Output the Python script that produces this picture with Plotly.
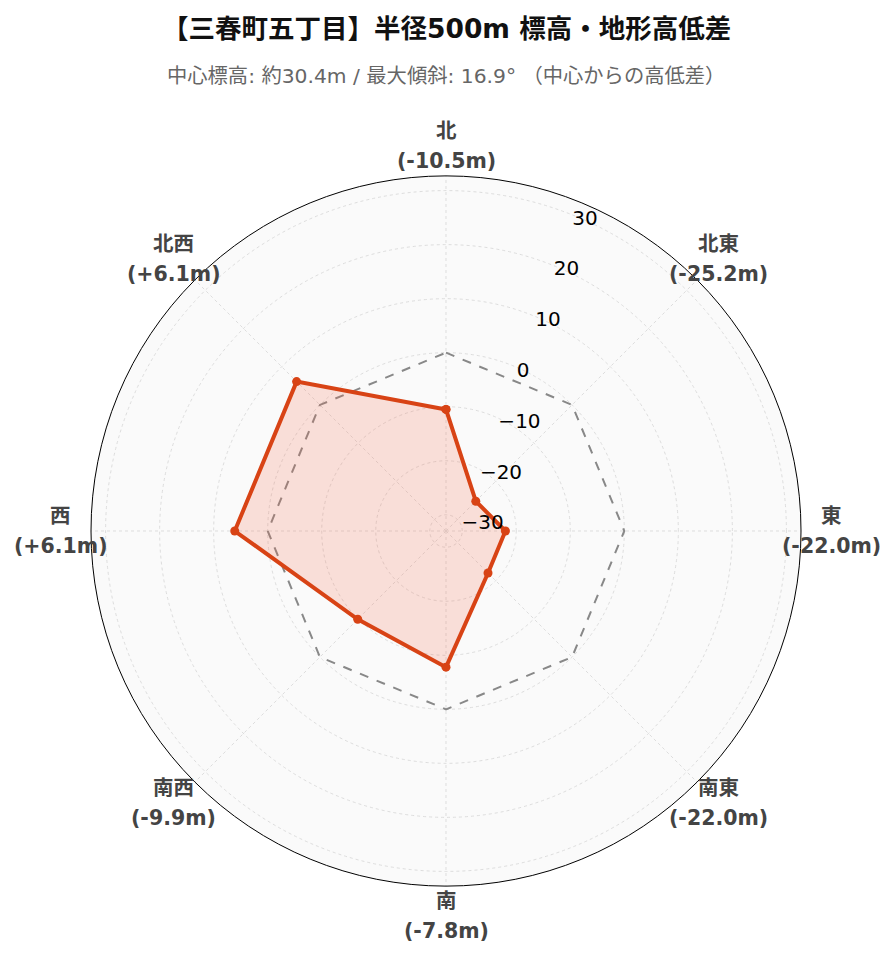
import math
import plotly.graph_objects as go

directions = ["北", "北東", "東", "南東", "南", "南西", "西", "北西"]
angles = [0, 45, 90, 135, 180, 225, 270, 315]
diffs = [-10.5, -25.2, -22.0, -22.0, -7.8, -9.9, 6.1, 6.1]
reference = [0, 0, 0, 0, 0, 0, 0, 0]
radial_ticks = [-30, -20, -10, 0, 10, 20, 30]
radial_range = [-33, 32.7]

value_labels = [f"({v:+.1f}m)".replace("+-", "-") for v in diffs]

fig = go.Figure()
fig.add_trace(go.Scatterpolar(
    r=reference + [reference[0]], theta=angles + [angles[0]],
    mode="lines", line=dict(color="#888888", width=2, dash="dash"),
    hoverinfo="skip", showlegend=False))
fig.add_trace(go.Scatterpolar(
    r=diffs + [diffs[0]], theta=angles + [angles[0]],
    mode="lines+markers", fill="toself", fillcolor="rgba(245,110,80,0.2)",
    line=dict(color="#d84315", width=4), marker=dict(size=9, color="#d84315"),
    showlegend=False))

W, H = 896, 962
L, R, T, B = 83, 103, 168, 84
plot_w, plot_h = W - L - R, H - T - B
FONT = "DejaVu Sans, Noto Sans CJK JP"

annotations = [
    dict(text="<b>【三春町五丁目】半径500m 標高・地形高低差</b>", x=0.5, y=(H - B - 20) / plot_h,
         xref="paper", yref="paper", yanchor="middle", showarrow=False,
         font=dict(size=26.5, color="#111", family=FONT)),
    dict(text="中心標高: 約30.4m / 最大傾斜: 16.9° （中心からの高低差）", x=0.5, y=(H - B - 68) / plot_h,
         xref="paper", yref="paper", yanchor="middle", showarrow=False,
         font=dict(size=20.3, color="#666", family=FONT)),
]

# angular labels placed just outside the polar circle
label_r = 385 / plot_w
for d, vl, a in zip(directions, value_labels, angles):
    x = 0.5 + label_r * math.sin(math.radians(a))
    y = 0.5 + label_r * math.cos(math.radians(a))
    for txt, shift in ((d, 15), (vl, -15)):
        annotations.append(dict(text=f"<b>{txt}</b>", x=x, y=y, xref="paper", yref="paper",
                                xanchor="center", yanchor="middle", yshift=shift, showarrow=False,
                                font=dict(size=20.5, color="#444", family=FONT)))

fig.update_layout(
    width=W, height=H,
    paper_bgcolor="white",
    margin=dict(l=L, r=R, t=T, b=B),
    font=dict(family=FONT, color="#222"),
    polar=dict(
        bgcolor="#fafafa",
        angularaxis=dict(direction="clockwise", rotation=90, tickmode="array",
                         tickvals=angles, showticklabels=False,
                         showline=True, linecolor="black", linewidth=1,
                         gridcolor="#dddddd", griddash="dot", ticks=""),
        radialaxis=dict(range=radial_range, tickvals=radial_ticks, angle=70, tickangle=70,
                        showline=False, gridcolor="#dddddd", griddash="dot",
                        tickfont=dict(size=20, color="black"), ticks=""),
    ),
    annotations=annotations,
)

fig.write_html("out.html")
